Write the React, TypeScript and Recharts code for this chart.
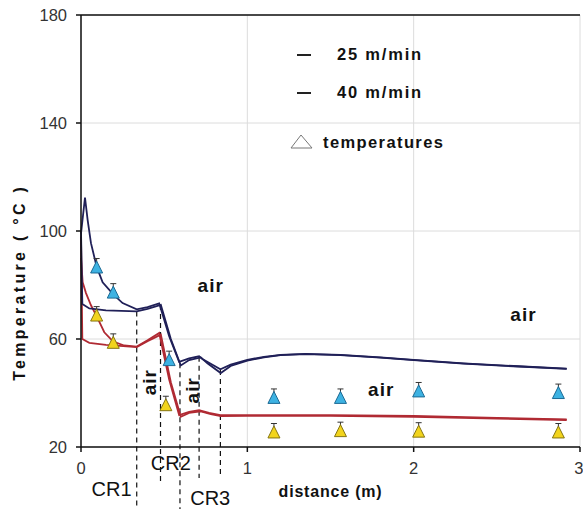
import React from 'react';
import {
  ComposedChart,
  Line,
  Scatter,
  ErrorBar,
  XAxis,
  YAxis,
  CartesianGrid,
  ReferenceLine,
  ReferenceDot,
  Legend,
} from 'recharts';

// simulated curves (distance m, temperature °C)
const upperA = [
  { x: 0, y: 99 }, { x: 0.024, y: 112.4 }, { x: 0.04, y: 104 }, { x: 0.06, y: 95.5 },
  { x: 0.094, y: 86.8 }, { x: 0.13, y: 81 }, { x: 0.194, y: 76.5 }, { x: 0.25, y: 73.3 },
  { x: 0.335, y: 71 }, { x: 0.4, y: 71.8 }, { x: 0.47, y: 73.2 }, { x: 0.53, y: 61 },
  { x: 0.59, y: 51.5 }, { x: 0.65, y: 52.8 }, { x: 0.71, y: 53.6 }, { x: 0.73, y: 52.6 },
  { x: 0.838, y: 48.8 }, { x: 0.9, y: 50.5 }, { x: 1.0, y: 52.3 }, { x: 1.1, y: 53.4 },
  { x: 1.2, y: 54.1 }, { x: 1.35, y: 54.5 }, { x: 1.56, y: 54.1 }, { x: 1.8, y: 53.2 },
  { x: 2.0, y: 52.3 }, { x: 2.3, y: 51.0 }, { x: 2.6, y: 50.0 }, { x: 2.92, y: 49.0 },
];
const upperB = [
  { x: 0, y: 100 }, { x: 0.008, y: 73 }, { x: 0.05, y: 71.3 }, { x: 0.15, y: 70.6 },
  { x: 0.335, y: 70.2 }, { x: 0.4, y: 71.2 }, { x: 0.48, y: 72.6 }, { x: 0.54, y: 60 },
  { x: 0.6, y: 50.2 }, { x: 0.65, y: 52.2 }, { x: 0.72, y: 53.2 }, { x: 0.76, y: 51 },
  { x: 0.84, y: 47.4 }, { x: 0.9, y: 50 }, { x: 1.0, y: 52 }, { x: 1.1, y: 53.2 },
  { x: 1.2, y: 54 }, { x: 1.35, y: 54.4 }, { x: 1.56, y: 54 }, { x: 1.8, y: 53.1 },
  { x: 2.0, y: 52.2 }, { x: 2.3, y: 50.9 }, { x: 2.6, y: 49.9 }, { x: 2.92, y: 48.9 },
];
const lowerA = [
  { x: 0, y: 90 }, { x: 0.01, y: 81 }, { x: 0.03, y: 77 }, { x: 0.06, y: 72.5 },
  { x: 0.094, y: 68.5 }, { x: 0.14, y: 62.5 }, { x: 0.194, y: 59 }, { x: 0.26, y: 57.6 },
  { x: 0.335, y: 57.2 }, { x: 0.4, y: 59.5 }, { x: 0.47, y: 62.2 }, { x: 0.53, y: 45 },
  { x: 0.59, y: 31.8 }, { x: 0.65, y: 33 }, { x: 0.71, y: 33.6 }, { x: 0.77, y: 32.6 },
  { x: 0.838, y: 31.8 }, { x: 1.0, y: 31.8 }, { x: 1.5, y: 31.8 }, { x: 2.0, y: 31.5 },
  { x: 2.5, y: 30.8 }, { x: 2.92, y: 30.2 },
];
const lowerB = [
  { x: 0, y: 98 }, { x: 0.008, y: 60 }, { x: 0.05, y: 58.6 }, { x: 0.15, y: 57.8 },
  { x: 0.335, y: 57 }, { x: 0.4, y: 59.2 }, { x: 0.48, y: 61.6 }, { x: 0.54, y: 44 },
  { x: 0.6, y: 31.2 }, { x: 0.65, y: 32.6 }, { x: 0.72, y: 33.2 }, { x: 0.78, y: 32.2 },
  { x: 0.84, y: 31.4 }, { x: 1.0, y: 31.5 }, { x: 1.5, y: 31.5 }, { x: 2.0, y: 31.2 },
  { x: 2.5, y: 30.5 }, { x: 2.92, y: 30 },
];

// measured temperatures, err = [below, above]
const measuredUpper = [
  { x: 0.094, y: 86.3, err: [0.5, 3.5] }, { x: 0.194, y: 77, err: [0.5, 3.5] },
  { x: 0.53, y: 52, err: [0.5, 3.5] }, { x: 1.16, y: 38, err: [0.5, 3.5] },
  { x: 1.56, y: 38, err: [0.5, 3.5] }, { x: 2.03, y: 40.4, err: [0.5, 3.5] },
  { x: 2.87, y: 39.8, err: [0.5, 3.5] },
];
const measuredLower = [
  { x: 0.094, y: 68.5, err: [0.5, 3.5] }, { x: 0.194, y: 58.4, err: [0.5, 3.5] },
  { x: 0.51, y: 35.3, err: [0.5, 3.5] }, { x: 1.16, y: 25.2, err: [0.5, 3.5] },
  { x: 1.56, y: 25.7, err: [0.5, 3.5] }, { x: 2.03, y: 25.5, err: [0.5, 3.5] },
  { x: 2.87, y: 25.2, err: [0.5, 3.5] },
];

const xTicks = [0, 1, 2, 3];
const yTicks = [20, 60, 100, 140, 180];

// zone boundaries (dashed)
const zoneEdges = [
  { x: 0.335, top: 70.2, bottom: -3 },
  { x: 0.478, top: 72.6, bottom: 6 },
  { x: 0.595, top: 51, bottom: -3 },
  { x: 0.71, top: 53.4, bottom: 8.5 },
  { x: 0.838, top: 48.5, bottom: 8.5 },
];

const notes = [
  { x: 0.78, y: 80, text: 'air', kind: 'air' },
  { x: 1.805, y: 41.5, text: 'air', kind: 'air' },
  { x: 2.66, y: 69.3, text: 'air', kind: 'air' },
  { x: 0.41, y: 44, text: 'air', kind: 'airV' },
  { x: 0.67, y: 41, text: 'air', kind: 'airV' },
  { x: 0.184, y: 4.5, text: 'CR1', kind: 'cr' },
  { x: 0.54, y: 14, text: 'CR2', kind: 'cr' },
  { x: 0.777, y: 1.1, text: 'CR3', kind: 'cr' },
  { x: 1.5, y: 3.6, text: 'distance (m)', kind: 'axis' },
  { x: -0.37, y: 81, text: 'Temperature ( °C )', kind: 'axisV' },
];

const FONT = "'Liberation Sans', Arial, sans-serif";

const noteStyle: Record<string, any> = {
  air: { fontSize: 19, fontWeight: 'bold', letterSpacing: 1 },
  airV: { fontSize: 19, fontWeight: 'bold', letterSpacing: 1, angle: -90 },
  cr: { fontSize: 20, fontWeight: 'normal' },
  axis: { fontSize: 16, fontWeight: 'bold', letterSpacing: 0.8 },
  axisV: { fontSize: 16, fontWeight: 'bold', letterSpacing: 3.3, angle: -90 },
};

const makeTriangle = (fill: string, stroke: string) => (props: any) => {
  const { cx, cy } = props;
  if (cx == null || cy == null) return <g />;
  return (
    <polygon
      points={`${cx},${cy - 7} ${cx - 6},${cy + 5} ${cx + 6},${cy + 5}`}
      fill={fill}
      stroke={stroke}
      strokeWidth={1}
    />
  );
};

const LegendBox = () => (
  <div style={{ position: 'relative', width: 180, height: 115, fontFamily: FONT, color: '#111' }}>
    <div style={{ position: 'absolute', left: 9, top: 14, width: 14, height: 1.5, background: '#222' }} />
    <div style={{ position: 'absolute', left: 49, top: 4, fontSize: 16.5, fontWeight: 'bold', letterSpacing: 1.8, lineHeight: '20px' }}>
      25 m/min
    </div>
    <div style={{ position: 'absolute', left: 9, top: 52, width: 14, height: 1.5, background: '#222' }} />
    <div style={{ position: 'absolute', left: 49, top: 42, fontSize: 16.5, fontWeight: 'bold', letterSpacing: 1.8, lineHeight: '20px' }}>
      40 m/min
    </div>
    <svg style={{ position: 'absolute', left: 1, top: 93 }} width={26} height={17}>
      <polygon points="12,2 2,15 23,15" fill="none" stroke="#777" strokeWidth={1} />
    </svg>
    <div style={{ position: 'absolute', left: 35, top: 92, fontSize: 16.5, fontWeight: 'bold', letterSpacing: 1.4, lineHeight: '20px' }}>
      temperatures
    </div>
  </div>
);

export default function App() {
  return (
    <div style={{ position: 'absolute', left: 0, top: 0, width: 583, height: 509, background: '#fff' }}>
      <ComposedChart width={583} height={509} margin={{ top: 15, right: 3, bottom: 32, left: 0 }}>
        <CartesianGrid stroke="#dcdcdc" strokeWidth={1} />
        <XAxis
          type="number"
          dataKey="x"
          domain={[0, 3]}
          ticks={xTicks}
          height={30}
          tickSize={5}
          tickMargin={10}
          stroke="#111"
          strokeWidth={1.5}
          tick={{ fill: '#333', fontSize: 16.5, fontFamily: FONT }}
        />
        <YAxis
          type="number"
          domain={[20, 180]}
          ticks={yTicks}
          width={81}
          tickSize={5}
          tickMargin={9}
          stroke="#111"
          strokeWidth={1.5}
          tick={{ fill: '#333', fontSize: 16.5, fontFamily: FONT }}
        />
        <ReferenceLine y={180} stroke="#111" strokeWidth={1.5} />
        {zoneEdges.map((e, i) => (
          <ReferenceLine
            key={'edge' + i}
            segment={[{ x: e.x, y: e.top }, { x: e.x, y: e.bottom }]}
            stroke="#111"
            strokeWidth={1.2}
            strokeDasharray="5 4"
            ifOverflow="visible"
          />
        ))}
        <Line data={lowerB} dataKey="y" type="linear" stroke="#b02a33" strokeWidth={1.8} dot={false} isAnimationActive={false} />
        <Line data={lowerA} dataKey="y" type="linear" stroke="#b02a33" strokeWidth={1.8} dot={false} isAnimationActive={false} />
        <Line data={upperB} dataKey="y" type="linear" stroke="#202058" strokeWidth={1.8} dot={false} isAnimationActive={false} />
        <Line data={upperA} dataKey="y" type="linear" stroke="#202058" strokeWidth={1.8} dot={false} isAnimationActive={false} />
        <Scatter data={measuredUpper} dataKey="y" shape={makeTriangle('#3db2e2', '#1c6a94')} isAnimationActive={false}>
          <ErrorBar dataKey="err" direction="y" width={3} stroke="#333" strokeWidth={1} />
        </Scatter>
        <Scatter data={measuredLower} dataKey="y" shape={makeTriangle('#f2d41c', '#857512')} isAnimationActive={false}>
          <ErrorBar dataKey="err" direction="y" width={3} stroke="#333" strokeWidth={1} />
        </Scatter>
        {notes.map((n, i) => {
          const s = noteStyle[n.kind];
          return (
            <ReferenceDot
              key={'note' + i}
              x={n.x}
              y={n.y}
              r={0}
              fill="none"
              stroke="none"
              ifOverflow="visible"
              label={{
                value: n.text,
                position: 'center',
                fill: '#111',
                fontFamily: FONT,
                ...s,
              }}
            />
          );
        })}
        <Legend
          layout="vertical"
          verticalAlign="middle"
          align="center"
          wrapperStyle={{ top: 40, left: 288, width: 180, height: 115 }}
          content={() => <LegendBox />}
        />
      </ComposedChart>
    </div>
  );
}
